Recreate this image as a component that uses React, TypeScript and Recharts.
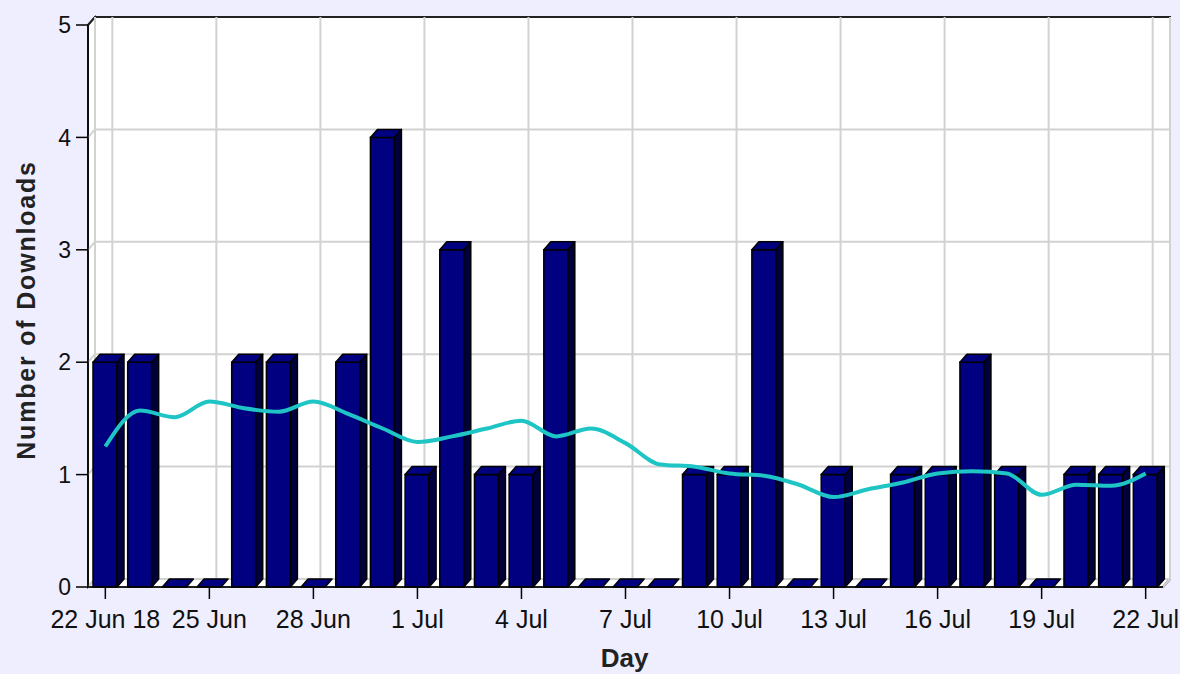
import { ComposedChart, Bar, Line, XAxis, YAxis, CartesianGrid } from 'recharts'

const days = [
  '22 Jun 18', '23 Jun', '24 Jun', '25 Jun', '26 Jun', '27 Jun', '28 Jun', '29 Jun', '30 Jun',
  '1 Jul', '2 Jul', '3 Jul', '4 Jul', '5 Jul', '6 Jul', '7 Jul', '8 Jul', '9 Jul', '10 Jul',
  '11 Jul', '12 Jul', '13 Jul', '14 Jul', '15 Jul', '16 Jul', '17 Jul', '18 Jul', '19 Jul',
  '20 Jul', '21 Jul', '22 Jul',
]
const downloads = [2, 2, 0, 0, 2, 2, 0, 2, 4, 1, 3, 1, 1, 3, 0, 0, 0, 1, 1, 3, 0, 1, 0, 1, 1, 2, 1, 0, 1, 1, 1]
const trend = [
  1.25, 1.57, 1.51, 1.65, 1.59, 1.56, 1.65, 1.54, 1.41, 1.29, 1.34, 1.41, 1.48, 1.34, 1.41, 1.28,
  1.09, 1.07, 1.01, 0.99, 0.91, 0.8, 0.87, 0.93, 1.01, 1.03, 1.01, 0.82, 0.91, 0.9, 1.01,
]
const xTicks = days.filter((_, i) => i % 3 === 0)
const yTicks = [0, 1, 2, 3, 4, 5]

const data = days.map((day, i) => ({ day, downloads: downloads[i], trend: trend[i] }))

// 3D depth of the box
const DX = 7
const DY = 8
const FONT = '"Liberation Sans", Arial, sans-serif'
const GRID = '#d2d2d2'

function Bar3D(props: any) {
  const { x, y, width, height } = props
  if (x == null || y == null) return null
  const h = Math.max(0, height || 0)
  const r = x + width
  const b = y + h
  return (
    <g>
      {h > 0 && <rect x={x} y={y} width={width} height={h} fill="#000080" stroke="#000" strokeWidth={1.5} />}
      <polygon
        points={`${x},${y} ${x + DX},${y - DY} ${r + DX},${y - DY} ${r},${y}`}
        fill="#000080"
        stroke="#000"
        strokeWidth={1.5}
        strokeLinejoin="round"
      />
      {h > 0 && (
        <polygon
          points={`${r},${y} ${r + DX},${y - DY} ${r + DX},${b - DY} ${r},${b}`}
          fill="#00003c"
          stroke="#000"
          strokeWidth={1.5}
          strokeLinejoin="round"
        />
      )}
    </g>
  )
}

// back wall, left wall, floor and outer frame, drawn behind the grid lines
function Walls({ x, y, width, height }: any) {
  const r = x + width
  const b = y + height
  return (
    <g>
      <rect x={x + DX} y={y - DY} width={width} height={height} fill="#fff" />
      <polygon
        points={`${x},${y} ${x + DX},${y - DY} ${x + DX},${b - DY} ${x},${b}`}
        fill="#fff"
        stroke="#000"
        strokeWidth={1.5}
      />
      <polygon
        points={`${x},${b} ${x + DX},${b - DY} ${r + DX},${b - DY} ${r},${b}`}
        fill="#fff"
        stroke="#000"
        strokeWidth={1}
      />
      <polyline
        points={`${x},${y} ${x + DX},${y - DY} ${r + DX},${y - DY} ${r + DX},${b - DY} ${r},${b}`}
        fill="none"
        stroke="#222"
        strokeWidth={2}
      />
    </g>
  )
}

const gridH = (p: any) => {
  const x1 = Math.min(p.x1, p.x2)
  const x2 = Math.max(p.x1, p.x2)
  const isTop = p.y != null && p.y1 <= p.y + 0.5
  return (
    <g key={p.key}>
      {p.index === 0 && <Walls x={p.x} y={p.y} width={p.width} height={p.height} />}
      {!isTop && (
        <polyline
          points={`${x1},${p.y1} ${x1 + DX},${p.y1 - DY} ${x2 + DX},${p.y1 - DY}`}
          fill="none"
          stroke={GRID}
          strokeWidth={2}
        />
      )}
    </g>
  )
}

const gridV = (p: any) => {
  const top = Math.min(p.y1, p.y2)
  const bottom = Math.max(p.y1, p.y2)
  return (
    <polyline
      key={p.key}
      points={`${p.x1 + DX},${top - DY} ${p.x1 + DX},${bottom - DY} ${p.x1},${bottom}`}
      fill="none"
      stroke={GRID}
      strokeWidth={2}
    />
  )
}

export default function App() {
  return (
    <div style={{ position: 'fixed', left: 0, top: 0, width: 1180, height: 674, background: '#eeeeff' }}>
      <ComposedChart
        width={1180}
        height={674}
        data={data}
        margin={{ top: 25, right: 17, bottom: 0, left: 0 }}
        barSize={24}
      >
        <CartesianGrid horizontal={gridH} vertical={gridV} />
        <XAxis
          dataKey="day"
          ticks={xTicks}
          interval={0}
          height={87}
          axisLine={{ stroke: '#000', strokeWidth: 1.5 }}
          tickLine={{ stroke: '#000', strokeWidth: 1.5 }}
          tickSize={12}
          tickMargin={11}
          tick={{ fill: '#111', fontSize: 25, fontFamily: FONT }}
          label={{
            content: ({ viewBox }: any) => (
              <text
                x={viewBox.x + viewBox.width / 2 - 1}
                y={viewBox.y + 80}
                textAnchor="middle"
                fontFamily={FONT}
                fontWeight="bold"
                fontSize={26}
                fill="#222"
              >
                Day
              </text>
            ),
          }}
        />
        <YAxis
          type="number"
          domain={[0, 5]}
          ticks={yTicks}
          interval={0}
          width={88}
          axisLine={{ stroke: '#000', strokeWidth: 1.5 }}
          tickLine={{ stroke: '#000', strokeWidth: 1.5 }}
          tickSize={12}
          tickMargin={5}
          tick={{ fill: '#111', fontSize: 23, fontFamily: FONT }}
          label={{
            content: ({ viewBox }: any) => {
              const cx = viewBox.x + 35
              const cy = viewBox.y + viewBox.height / 2 + 4
              return (
                <text
                  x={cx}
                  y={cy}
                  transform={`rotate(-90, ${cx}, ${cy})`}
                  textAnchor="middle"
                  fontFamily={FONT}
                  fontWeight="bold"
                  fontSize={25}
                  letterSpacing={1.8}
                  fill="#222"
                >
                  Number of Downloads
                </text>
              )
            },
          }}
        />
        <Bar dataKey="downloads" shape={<Bar3D />} isAnimationActive={false} />
        <Line
          dataKey="trend"
          type="monotone"
          stroke="#1fc4c4"
          strokeWidth={4}
          dot={false}
          activeDot={false}
          isAnimationActive={false}
        />
      </ComposedChart>
    </div>
  )
}
